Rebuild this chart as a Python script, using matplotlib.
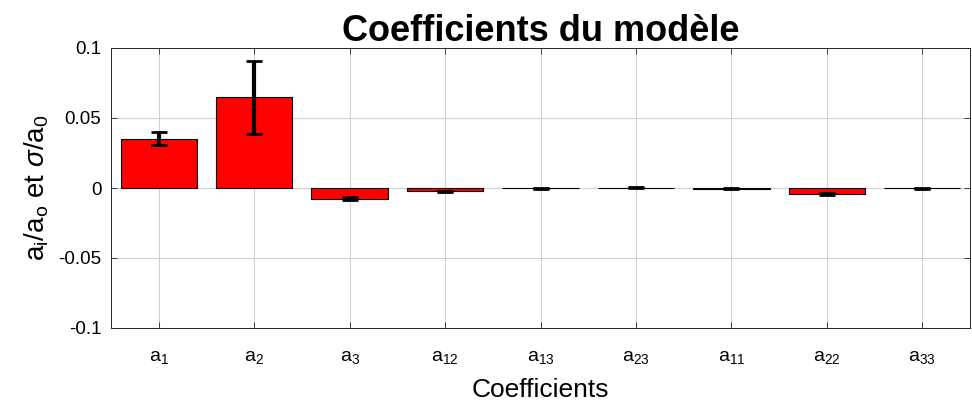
import matplotlib
matplotlib.use("Agg")
import matplotlib.pyplot as plt
import numpy as np

plt.rcParams['font.family'] = ['Liberation Sans', 'DejaVu Sans']
plt.rcParams['mathtext.fontset'] = 'custom'
plt.rcParams['mathtext.rm'] = 'Liberation Sans'
plt.rcParams['mathtext.it'] = 'Liberation Sans:italic'
plt.rcParams['mathtext.bf'] = 'Liberation Sans:bold'

# Normalised model coefficients and their standard deviations
coef_names = ['1', '2', '3', '12', '13', '23', '11', '22', '33']
coef_values = [0.0352, 0.0648, -0.0077, -0.0024, -0.0003, 0.0003, -0.0005, -0.0040, -0.0003]
coef_sigma = [0.0048, 0.0260, 0.0012, 0.0005, 0.0004, 0.0004, 0.0005, 0.0007, 0.0004]

fig = plt.figure(figsize=(9.72, 4.04), dpi=100)
ax = fig.add_axes([111/972, 1 - 328/404, 859/972, 280/404])

x = np.arange(1, len(coef_names) + 1)
ax.bar(x, coef_values, width=0.8, color='#ff0000', edgecolor='black', linewidth=0.8, zorder=3)
ax.errorbar(x, coef_values, yerr=coef_sigma, fmt='none', ecolor='black',
            elinewidth=3, capsize=6, capthick=2, zorder=4)

ax.set_xlim(0.5, len(coef_names) + 0.5)
ax.set_ylim(-0.1, 0.1)
ax.set_yticks([-0.1, -0.05, 0, 0.05, 0.1])
ax.set_yticklabels(['-0.1', '-0.05', '0', '0.05', '0.1'])
ax.set_xticks(x)
ax.set_xticklabels([f'a$_{{\\mathrm{{{n}}}}}$' for n in coef_names])
ax.tick_params(direction='in', length=4, labelsize=13.5, color='#262626', width=0.6,
               top=True, right=True)
ax.tick_params(axis='y', pad=7)
ax.tick_params(axis='x', pad=15, labelsize=14)
ax.grid(True, color='#d0d0d0', linewidth=0.8, zorder=0)
ax.set_axisbelow(True)
for s in ax.spines.values():
    s.set_color('#262626')
    s.set_linewidth(0.7)

ax.set_xlabel('Coefficients', fontsize=19, labelpad=9)
ax.set_ylabel(r'a$_\mathrm{i}$/a$_\mathrm{o}$ et $\sigma$/a$_\mathrm{0}$', fontsize=20, labelpad=5)
ax.set_title('Coefficients du modèle', fontsize=26, fontweight='bold', pad=5)

fig.savefig('out.png', dpi=100)
